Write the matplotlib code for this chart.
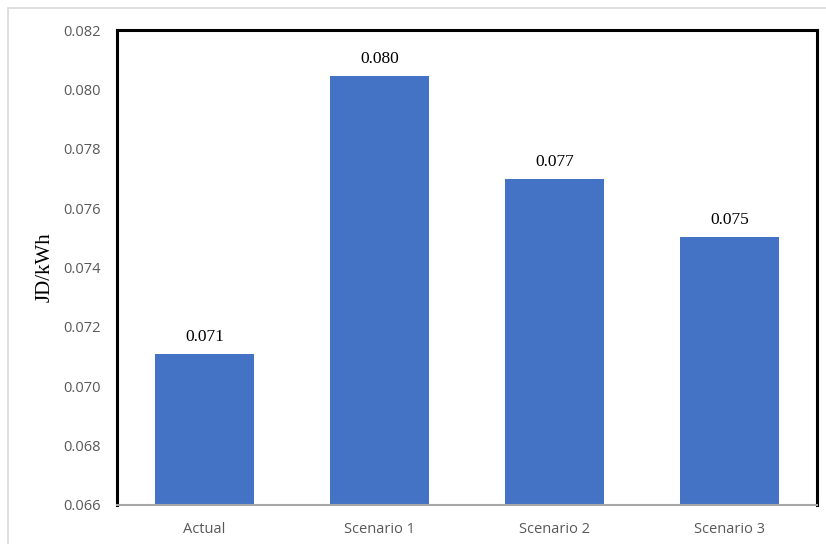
import matplotlib.pyplot as plt
from matplotlib.patches import Rectangle

categories = ["Actual", "Scenario 1", "Scenario 2", "Scenario 3"]
values = [0.07109, 0.08045, 0.07698, 0.07503]
value_labels = ["0.071", "0.080", "0.077", "0.075"]
yticks = [0.066, 0.068, 0.070, 0.072, 0.074, 0.076, 0.078, 0.080, 0.082]

fig = plt.figure(figsize=(8.26, 5.44), dpi=100)
ax = fig.add_axes([117 / 826, 1 - 505 / 544, 700 / 826, 475 / 544])

# light grey outer chart frame
fig.patches.append(Rectangle((8 / 826, -0.1), 1.2, 1 - 8 / 544 + 0.1,
                             transform=fig.transFigure, fill=False,
                             edgecolor="#d9d9d9", linewidth=1.2))

x = range(len(categories))
ax.bar(x, values, width=0.571, color="#4472c4", zorder=2)

for i, v in enumerate(values):
    ax.annotate(value_labels[i], (i, v), xytext=(0, 6.5), textcoords="offset points",
                ha="center", va="bottom", fontsize=12.5, family="Liberation Serif",
                color="black")

ax.set_xlim(-0.5, 3.5)
ax.set_ylim(0.066, 0.082)
ax.set_yticks(yticks)
ax.set_yticklabels([f"{t:.3f}" for t in yticks])
ax.set_xticks(list(x))
ax.set_xticklabels(categories)

for lab in ax.get_xticklabels() + ax.get_yticklabels():
    lab.set_family("Open Sans")
    lab.set_fontsize(10.5)
    lab.set_color("#595959")

ax.tick_params(axis="both", length=0)
ax.tick_params(axis="y", pad=12)
ax.tick_params(axis="x", pad=12)

for side in ["top", "left", "right"]:
    ax.spines[side].set_color("black")
    ax.spines[side].set_linewidth(2.2)
ax.spines["bottom"].set_color("#a6a6a6")
ax.spines["bottom"].set_linewidth(1.5)

ax.set_ylabel("JD/kWh", family="Liberation Serif", fontsize=15, labelpad=6)

fig.savefig("out.png", dpi=100)
